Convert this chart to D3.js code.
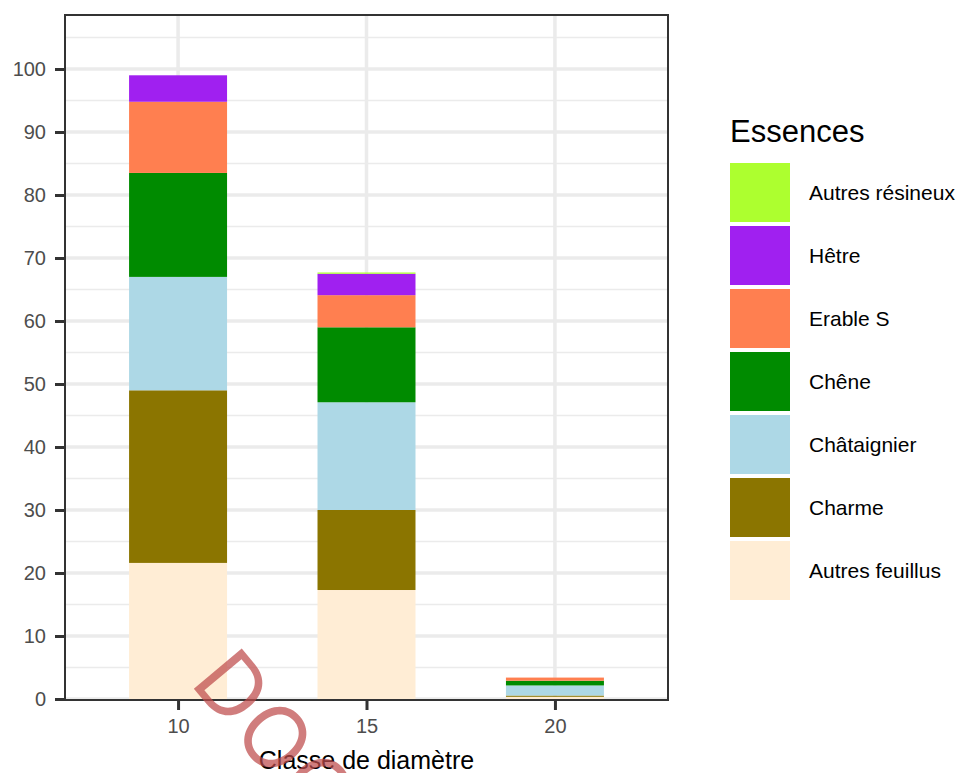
<!DOCTYPE html>
<html><head><meta charset="utf-8">
<script src="https://cdn.jsdelivr.net/npm/d3@7"></script>
<style>body{margin:0;background:#fff}svg{font-family:"Liberation Sans",Arial,sans-serif}</style>
</head><body><svg id="c" width="961" height="773"></svg>
<script>
const classes = ["10","15","20"];
const essences = ["Autres feuillus","Charme","Châtaignier","Chêne","Erable S","Hêtre","Autres résineux"];
const colors = ["#FFEDD5","#8B7500","#ADD8E6","#008B00","#FF7F50","#A020F0","#ADFF2F"];
const vAutresFeuillus = [21.6, 17.3, 0.35];
const vCharme = [27.4, 12.7, 0.2];
const vChataignier = [18.0, 17.1, 1.6];
const vChene = [16.5, 11.9, 0.75];
const vErable = [11.3, 5.1, 0.5];
const vHetre = [4.2, 3.4, 0];
const vResineux = [0, 0.2, 0];
const yTicks = [0,10,20,30,40,50,60,70,80,90,100];
const series = [vAutresFeuillus,vCharme,vChataignier,vChene,vErable,vHetre,vResineux];

const svg = d3.select("#c");
const L=65,R=668,T=15,B=700;
const y = d3.scaleLinear().domain([0,108.57]).range([699,T]);
const x = d3.scaleLinear().domain([0.4,3.6]).range([L,R]);
const bw = 0.52*(x(2)-x(1));

// grid
const g = svg.append("g");
d3.range(5,110,10).forEach(v=>{ if(y(v)>T) g.append("line").attr("x1",L).attr("x2",R).attr("y1",y(v)).attr("y2",y(v)).attr("stroke","#EBEBEB").attr("stroke-width",1.5);});
yTicks.forEach(v=>g.append("line").attr("x1",L).attr("x2",R).attr("y1",y(v)).attr("y2",y(v)).attr("stroke","#EBEBEB").attr("stroke-width",3.5));
classes.forEach((c,i)=>g.append("line").attr("x1",x(i+1)).attr("x2",x(i+1)).attr("y1",T).attr("y2",B).attr("stroke","#EBEBEB").attr("stroke-width",3.5));

// bars
const stackData = classes.map((c,i)=>{const o={c,i}; essences.forEach((e,k)=>o[e]=series[k][i]); return o;});
const stacked = d3.stack().keys(essences)(stackData);
stacked.forEach((s,k)=>{
  svg.append("g").selectAll("rect").data(s).join("rect")
   .attr("x",d=>x(d.data.i+1)-bw/2).attr("width",bw)
   .attr("y",d=>y(d[1])).attr("height",d=>Math.max(0,y(d[0])-y(d[1])))
   .attr("fill",colors[k]);
});

// panel border
svg.append("rect").attr("x",L).attr("y",T).attr("width",R-L).attr("height",B-T).attr("fill","none").attr("stroke","#333").attr("stroke-width",2);

// axes
const ya = svg.append("g").attr("transform",`translate(${L},0)`).call(d3.axisLeft(y).tickValues(yTicks).tickSize(10).tickPadding(9));
ya.select(".domain").remove();
ya.selectAll("line").attr("stroke","#333").attr("stroke-width",3);
ya.selectAll("text").attr("fill","#4D4D4D").style("font-size","20px").style("font-family","Liberation Sans");
const xa = svg.append("g").attr("transform",`translate(0,${B})`).call(d3.axisBottom(x).tickValues([1,2,3]).tickFormat((d,i)=>classes[i]).tickSize(10).tickPadding(9));
xa.select(".domain").remove();
xa.selectAll("line").attr("stroke","#333").attr("stroke-width",3);
xa.selectAll("text").attr("fill","#4D4D4D").style("font-size","20px").style("font-family","Liberation Sans");

svg.append("text").attr("x",(L+R)/2).attr("y",769).attr("text-anchor","middle").attr("font-size",25).attr("fill","#000").text("Classe de diamètre");

// legend
svg.append("text").attr("x",730).attr("y",142).attr("font-size",31).attr("fill","#000").text("Essences");
const order = essences.slice().reverse();
const ocol = colors.slice().reverse();
order.forEach((e,i)=>{
  const yy = 163 + i*63;
  svg.append("rect").attr("x",730).attr("y",yy).attr("width",60).attr("height",59).attr("fill",ocol[i]);
  svg.append("text").attr("x",809).attr("y",yy+37).attr("font-size",21).attr("fill","#000").text(e);
});

// watermark
svg.append("text").attr("transform","translate(189,683) rotate(50)").attr("font-size",86).attr("letter-spacing",2)
  .style("font-family","Inter").style("font-weight",380)
  .attr("fill","rgba(190,75,75,0.72)").text("DOC");
</script></body></html>
